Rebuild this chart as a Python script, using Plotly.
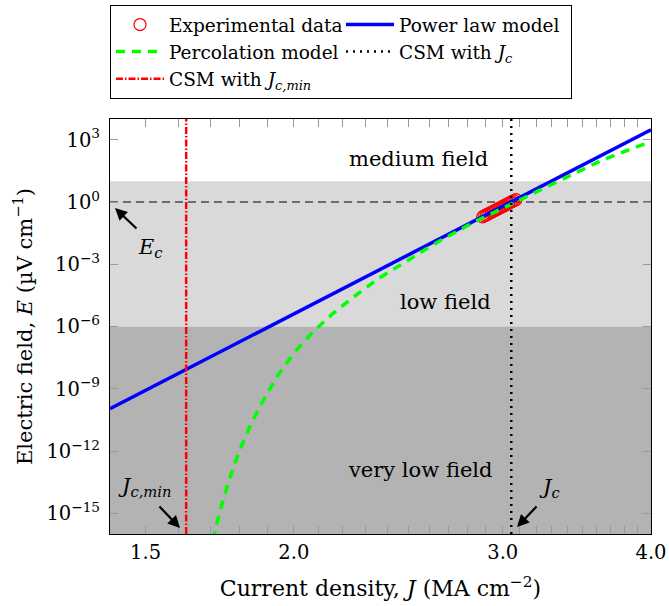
import math
import plotly.graph_objects as go

# ---------------- data ----------------
J_exp = [2.885, 2.895, 2.905, 2.915, 2.925, 2.935, 2.945, 2.955, 2.965, 2.975,
         2.985, 2.995, 3.005, 3.015, 3.025, 3.035, 3.045, 3.055, 3.065, 3.078]
E_exp = [0.193, 0.214, 0.237, 0.262, 0.290, 0.321, 0.355, 0.392, 0.433, 0.478,
         0.528, 0.583, 0.644, 0.711, 0.784, 0.865, 0.953, 1.05, 1.16, 1.31]

J_power = [1.4, 3.05, 4.0]
E_power = [1.1e-10, 1.0, 3.0e3]

J_perc = [1.712, 1.718, 1.735, 1.764, 1.798, 1.839, 1.882, 1.938, 2.001, 2.074,
          2.157, 2.249, 2.353, 2.462, 2.559, 2.661, 2.766, 2.837, 3.05, 3.19,
          3.404, 3.632, 3.875, 4.0]
E_perc = [5.0e-17, 1.8e-16, 1.6e-15, 4.0e-14, 8.9e-13, 1.8e-11, 2.4e-10, 4.2e-9, 5.5e-8, 5.2e-7,
          4.2e-6, 2.8e-5, 1.9e-4, 1.0e-3, 3.8e-3, 1.45e-2, 5.0e-2, 0.107, 0.79, 2.8,
          16.6, 100, 417, 794]

Jc = 3.05
Jc_min = 1.623
Ec = 1.0

J_range = [1.4, 4.0]
E_range = [1e-16, 1e4]
E_low_top = 10.0      # top of "low field" band
E_vlow_top = 1e-6     # top of "very low field" band

x_tickvals = [round(1.4 + 0.1 * i, 1) for i in range(27)]
x_labels = {1.5: "1.5", 2.0: "2.0", 3.0: "3.0", 4.0: "4.0"}
x_ticktext = [x_labels.get(v, "") for v in x_tickvals]

y_exponents = [3, 0, -3, -6, -9, -12, -15]
y_tickvals = [10.0 ** e for e in y_exponents]
y_ticktext = ["10<sup>%s</sup>" % (str(e).replace("-", "\u2212")) for e in y_exponents]

FONT = "DejaVu Serif"

fig = go.Figure()

# Ec reference line
fig.add_trace(go.Scatter(x=J_range, y=[Ec, Ec], mode="lines", showlegend=False,
                         line=dict(color="black", width=1.2, dash="8px,5px"), hoverinfo="skip"))

fig.add_trace(go.Scatter(x=J_exp, y=E_exp, mode="markers", name="Experimental data",
                         marker=dict(symbol="circle-open", color="red", size=12,
                                     line=dict(color="red", width=1.2))))
fig.add_trace(go.Scatter(x=J_power, y=E_power, mode="lines", name="Power law model",
                         line=dict(color="#0000ff", width=3.5)))
fig.add_trace(go.Scatter(x=J_perc, y=E_perc, mode="lines", name="Percolation model",
                         line=dict(color="#00ff00", width=3.5, dash="9px,7px")))
fig.add_trace(go.Scatter(x=[Jc, Jc], y=E_range, mode="lines", name="CSM with <i>J<sub>c</sub></i>",
                         line=dict(color="black", width=2.5, dash="2px,5px")))
fig.add_trace(go.Scatter(x=[Jc_min, Jc_min], y=E_range, mode="lines",
                         name="CSM with <i>J<sub>c,min</sub></i>",
                         line=dict(color="red", width=2.5, dash="7px,2px,1.5px,2px")))

# shaded field regions
shapes = [
    dict(type="rect", xref="paper", x0=0, x1=1, yref="y",
         y0=E_vlow_top, y1=E_low_top,
         fillcolor="#d9d9d9", line=dict(width=0), layer="below"),
    dict(type="rect", xref="paper", x0=0, x1=1, yref="y",
         y0=E_range[0], y1=E_vlow_top,
         fillcolor="#b3b3b3", line=dict(width=0), layer="below"),
]

tfont = dict(family=FONT, size=21, color="black")


def label(x, y, text):
    return dict(xref="paper", yref="paper", x=x, y=y, text=text, showarrow=False,
                xanchor="center", yanchor="middle", font=tfont)


def arrow(hx, hy, ax, ay):
    return dict(xref="paper", yref="paper", x=hx, y=hy, ax=ax, ay=ay, text="",
                showarrow=True, arrowhead=2, arrowsize=1.1, arrowwidth=2.2, arrowcolor="black")


annotations = [
    label(0.571, 0.904, "medium field"),
    label(0.621, 0.560, "low field"),
    label(0.573, 0.155, "very low field"),
    label(0.074, 0.689, "<i>E<sub>c</sub></i>"),
    label(0.063, 0.113, "<i>J<sub>c,min</sub></i>"),
    label(0.813, 0.111, "<i>J<sub>c</sub></i>"),
    arrow((115 - 110) / 541, (534 - 208) / 415, 23, 22),
    arrow((180 - 110) / 541, (534 - 528) / 415, -22, -23),
    arrow((517 - 110) / 541, (534 - 527) / 415, 21, -22),
]

axis_common = dict(showgrid=False, zeroline=False, showline=True, linecolor="black", linewidth=1.2,
                   mirror="ticks", ticks="inside", ticklen=8, tickwidth=1.2, tickcolor="#999999",
                   automargin=False, tickfont=dict(family=FONT, size=19.5, color="black"))

fig.update_layout(
    width=669, height=606,
    margin=dict(l=110, r=18, t=119, b=72, autoexpand=False),
    paper_bgcolor="white", plot_bgcolor="white",
    font=dict(family=FONT, size=20, color="black"),
    shapes=shapes, annotations=annotations,
    xaxis=dict(type="log", range=[math.log10(J_range[0]), math.log10(J_range[1])],
               tickmode="array", tickvals=x_tickvals, ticktext=x_ticktext,
               title=dict(text="Current density, <i>J</i> (MA cm<sup>\u22122</sup>)",
                          font=dict(family=FONT, size=22), standoff=18),
               **axis_common),
    yaxis=dict(type="log", range=[math.log10(E_range[0]), math.log10(E_range[1])],
               tickmode="array", tickvals=y_tickvals, ticktext=y_ticktext,
               ticklabelstandoff=5,
               title=dict(text="Electric field, <i>E</i> (\u00b5V cm<sup>\u22121</sup>)",
                          font=dict(family=FONT, size=21), standoff=8),
               **axis_common),
    legend=dict(orientation="h", x=0, xanchor="left", xref="paper",
                y=1 - 5 / 606, yanchor="top", yref="container",
                bordercolor="black", borderwidth=1, bgcolor="white",
                font=dict(family=FONT, size=18.5, color="black"),
                itemwidth=48, entrywidth=167, entrywidthmode="pixels", traceorder="normal"),
)

fig.write_html("out.html", config={"displayModeBar": False},
               post_script="document.body.style.margin='0px';")
